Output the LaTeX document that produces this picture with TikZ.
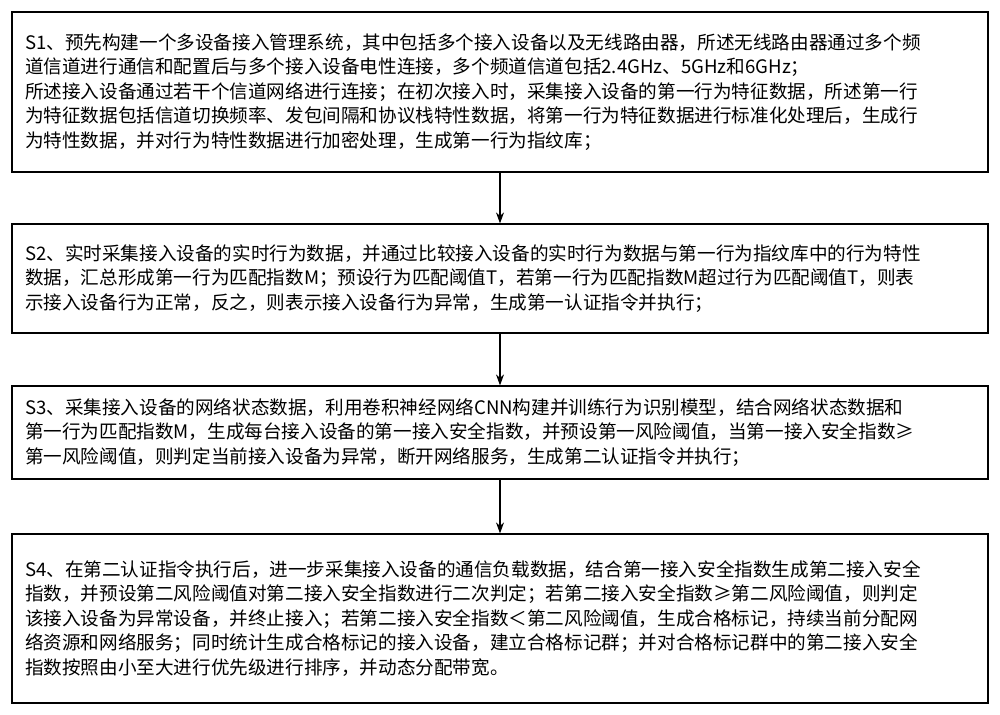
\documentclass[tikz,border=0pt]{standalone}
\usepackage{fontspec}
\setmainfont{Noto Sans CJK SC}
\usetikzlibrary{arrows.meta}
\begin{document}
\begin{tikzpicture}[x=1pt,y=-1pt,
  box/.style={draw,line width=1.2pt,minimum width=976pt,text width=950pt,align=left,inner sep=0pt,font=\fontsize{18.6}{24.5}\selectfont},
  arr/.style={line width=1.2pt,-{Stealth[length=11pt,width=8pt]}}]
\useasboundingbox (0,0) rectangle (1000,714);
\fill[white] (0,0) rectangle (1000,714);
\node[box,minimum height=160pt] (s1) at (500,92) {S1、预先构建一个多设备接入管理系统，其中包括多个接入设备以及无线路由器，所述无线路由器通过多个频\\道信道进行通信和配置后与多个接入设备电性连接，多个频道信道包括2.4GHz、5GHz和6GHz；\\所述接入设备通过若干个信道网络进行连接；在初次接入时，采集接入设备的第一行为特征数据，所述第一行\\为特征数据包括信道切换频率、发包间隔和协议栈特性数据，将第一行为特征数据进行标准化处理后，生成行\\为特性数据，并对行为特性数据进行加密处理，生成第一行为指纹库；};
\node[box,minimum height=109pt] (s2) at (500,278.5) {S2、实时采集接入设备的实时行为数据，并通过比较接入设备的实时行为数据与第一行为指纹库中的行为特性\\数据，汇总形成第一行为匹配指数M；预设行为匹配阈值T，若第一行为匹配指数M超过行为匹配阈值T，则表\\示接入设备行为正常，反之，则表示接入设备行为异常，生成第一认证指令并执行；};
\node[box,minimum height=93pt] (s3) at (500,432.5) {S3、采集接入设备的网络状态数据，利用卷积神经网络CNN构建并训练行为识别模型，结合网络状态数据和\\第一行为匹配指数M，生成每台接入设备的第一接入安全指数，并预设第一风险阈值，当第一接入安全指数≥\\第一风险阈值，则判定当前接入设备为异常，断开网络服务，生成第二认证指令并执行；};
\node[box,minimum height=169pt] (s4) at (500,618.5) {S4、在第二认证指令执行后，进一步采集接入设备的通信负载数据，结合第一接入安全指数生成第二接入安全\\指数，并预设第二风险阈值对第二接入安全指数进行二次判定；若第二接入安全指数≥第二风险阈值，则判定\\该接入设备为异常设备，并终止接入；若第二接入安全指数＜第二风险阈值，生成合格标记，持续当前分配网\\络资源和网络服务；同时统计生成合格标记的接入设备，建立合格标记群；并对合格标记群中的第二接入安全\\指数按照由小至大进行优先级进行排序，并动态分配带宽。};
\draw[arr] (s1.south) -- (s2.north);
\draw[arr] (s2.south) -- (s3.north);
\draw[arr] (s3.south) -- (s4.north);
\end{tikzpicture}
\end{document}
